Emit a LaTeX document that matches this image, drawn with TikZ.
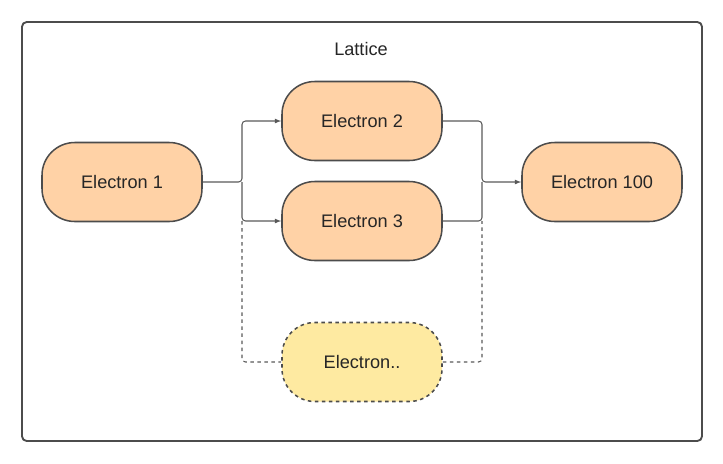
\documentclass[tikz,border=0pt]{standalone}
\usepackage{fontspec}
\setmainfont{Liberation Sans}
\begin{document}
\begin{tikzpicture}[x=0.03cm,y=-0.03cm,
  el/.style={draw=black!70,line width=1.3pt,fill=orange!35!white,rounded corners=28pt,minimum width=160*0.03cm,minimum height=79*0.03cm,font=\fontsize{15.5}{18}\selectfont,text=black!85},
  con/.style={draw=black!65,line width=0.9pt,rounded corners=3pt},
  arr/.style={con,-latex},
  dsh/.style={con,dashed}]
\useasboundingbox (0,0) rectangle (723,463);
\draw[black!70,line width=1.6pt,rounded corners=4pt] (22,22) rectangle (702,441);
\node[font=\fontsize{15.5}{18}\selectfont,text=black!85] (lat) at (361,49) {Lattice};
\node[el] (e1) at (122,182) {Electron 1};
\node[el] (e2) at (362,121) {Electron 2};
\node[el] (e3) at (362,221) {Electron 3};
\node[el] (e100) at (602,182) {Electron 100};
\node[el,fill=yellow!35!orange!30!white,fill=yellow!60!orange!35!white,dashed] (ed) at (362,362) {Electron..};
\coordinate (j1) at (242,182);
\coordinate (j2) at (482,182);
\draw[arr] (e1.east) -- (j1) |- (e2.west);
\draw[arr] (j1) |- (e3.west);
\draw[dsh] (242,221) |- (ed.west);
\draw[arr] (e2.east) -| (j2) -- (e100.west);
\draw[con] (e3.east) -| (j2);
\draw[dsh] (ed.east) -| (482,221);
\end{tikzpicture}
\end{document}
